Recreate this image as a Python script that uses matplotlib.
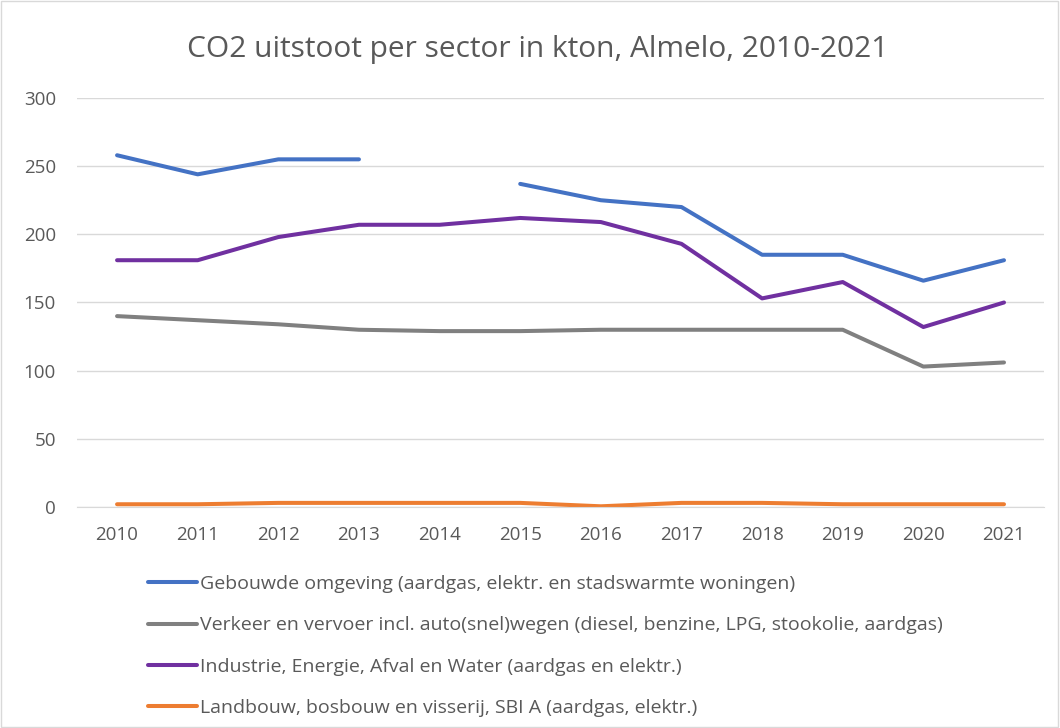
import numpy as np
import matplotlib.pyplot as plt
from matplotlib.patches import Rectangle

years = ['2010', '2011', '2012', '2013', '2014', '2015', '2016', '2017', '2018', '2019', '2020', '2021']

# kton CO2 per sector (2014 ontbreekt voor gebouwde omgeving)
gebouwde_omgeving = [258, 244, 255, 255, np.nan, 237, 225, 220, 185, 185, 166, 181]
verkeer_vervoer = [140, 137, 134, 130, 129, 129, 130, 130, 130, 130, 103, 106]
industrie = [181, 181, 198, 207, 207, 212, 209, 193, 153, 165, 132, 150]
landbouw = [2, 2, 3, 3, 3, 3, 0.5, 3, 3, 2, 2, 2]

labels = [
    'Gebouwde omgeving (aardgas, elektr. en stadswarmte woningen)',
    'Verkeer en vervoer incl. auto(snel)wegen (diesel, benzine, LPG, stookolie, aardgas)',
    'Industrie, Energie, Afval en Water (aardgas en elektr.)',
    'Landbouw, bosbouw en visserij, SBI A (aardgas, elektr.)',
]
colors = ['#4472C4', '#808080', '#7030A0', '#ED7D31']

plt.rcParams['font.family'] = ['Open Sans', 'DejaVu Sans']

fig = plt.figure(figsize=(10.6, 7.28), dpi=100)
ax = fig.add_axes([0.0724, 0.3036, 0.9128, 0.5618])

x = np.arange(len(years))
series = [gebouwde_omgeving, verkeer_vervoer, industrie, landbouw]
for vals, col, lab in zip(series, colors, labels):
    ax.plot(x, vals, color=col, lw=2.9, label=lab, solid_capstyle='round')

ax.set_xlim(-0.5, len(years) - 0.5)
ax.set_ylim(0, 300)
ax.set_yticks(range(0, 301, 50))
ax.set_xticks(x)
ax.set_xticklabels(years)
ax.tick_params(length=0, labelsize=13.5, colors='#595959')
ax.tick_params(axis='y', pad=15)
ax.tick_params(axis='x', pad=14)
ax.grid(axis='y', color='#D9D9D9', lw=1)
ax.set_axisbelow(True)
for s in ['top', 'right', 'left']:
    ax.spines[s].set_visible(False)
ax.spines['bottom'].set_color('#D9D9D9')

fig.text(0.507, 0.932, 'CO2 uitstoot per sector in kton, Almelo, 2010-2021',
         ha='center', va='center', fontsize=21.5, color='#595959')

leg = ax.legend(loc='upper left', bbox_to_anchor=(0.1396, 0.2102), bbox_transform=fig.transFigure,
                frameon=False, fontsize=14, handlelength=2.5, handletextpad=0.15,
                labelspacing=1.2, borderaxespad=0, borderpad=0, labelcolor='#595959')

fig.patches.append(Rectangle((0.001, 0.001), 0.997, 0.997, transform=fig.transFigure,
                             fill=False, edgecolor='#D9D9D9', lw=1))

fig.savefig('out.png', dpi=100)
